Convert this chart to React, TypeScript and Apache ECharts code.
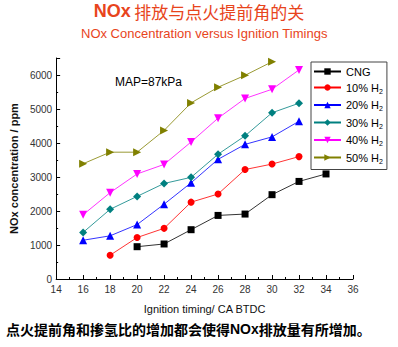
import React, { useEffect, useRef } from "react";
import * as echarts from "echarts";

const xTicks = [14, 16, 18, 20, 22, 24, 26, 28, 30, 32, 34, 36];
const seriesNames = ["CNG", "10% H2", "20% H2", "30% H2", "40% H2", "50% H2"];
const cngX = [20, 22, 24, 26, 28, 30, 32, 34];
const cngY = [950, 1030, 1450, 1870, 1910, 2480, 2870, 3090];
const h10X = [18, 20, 22, 24, 26, 28, 30, 32];
const h10Y = [700, 1220, 1490, 2260, 2500, 3220, 3380, 3600];
const h20X = [16, 18, 20, 22, 24, 26, 28, 30, 32];
const h20Y = [1140, 1270, 1600, 2200, 2830, 3520, 3960, 4180, 4640];
const h30X = [16, 18, 20, 22, 24, 26, 28, 30, 32];
const h30Y = [1370, 2050, 2430, 2810, 2990, 3670, 4210, 4890, 5170];
const h40X = [16, 18, 20, 22, 24, 26, 28, 30, 32];
const h40Y = [1890, 2540, 3090, 3370, 4030, 4730, 5310, 5580, 6150];
const h50X = [16, 18, 20, 22, 24, 26, 28, 30];
const h50Y = [3390, 3730, 3730, 4370, 5180, 5640, 5990, 6390];

const colors = ["#000000", "#ff0000", "#0000ff", "#008080", "#ff00ff", "#808000"];
const symbols = [
  "rect",
  "circle",
  "triangle",
  "diamond",
  "path://M0,0 L10,0 L5,9 Z",
  "path://M0,0 L9,5 L0,10 Z",
];
const symbolSizes = [7, 7, 8, 8, 8, 8];

const FONT = "'Liberation Sans', Arial, sans-serif";
const CJK = "'Noto Sans CJK SC', 'Liberation Sans', sans-serif";

export default function App() {
  const ref = useRef<HTMLDivElement>(null);
  useEffect(() => {
    document.body.style.margin = "0";
    const chart = echarts.init(ref.current!, null, { renderer: "svg" });
    const xs = [cngX, h10X, h20X, h30X, h40X, h50X];
    const ys = [cngY, h10Y, h20Y, h30Y, h40Y, h50Y];
    const series = seriesNames.map((name, i) => ({
      name,
      type: "line",
      data: xs[i].map((x, j) => [x, ys[i][j]]),
      symbol: symbols[i],
      symbolSize: symbolSizes[i],
      showAllSymbol: true,
      lineStyle: { color: colors[i], width: 0.8 },
      itemStyle: { color: colors[i] },
    }));
    chart.setOption({
      animation: false,
      backgroundColor: "#ffffff",
      textStyle: { fontFamily: FONT },
      grid: { left: 55, right: 45, top: 58, bottom: 68 },
      xAxis: {
        type: "value",
        min: 14,
        max: 36,
        interval: 2,
        name: "Ignition timing/ CA BTDC",
        nameLocation: "middle",
        nameGap: 24,
        nameTextStyle: { fontSize: 11, color: "#111", fontFamily: FONT },
        axisLine: { lineStyle: { color: "#000", width: 1 } },
        axisTick: { inside: true, length: 4, lineStyle: { color: "#000" } },
        minorTick: { show: true, splitNumber: 2, length: 2, lineStyle: { color: "#000" } },
        axisLabel: {
          fontSize: 10,
          color: "#333",
          margin: 5,
          formatter: (v: number) => (xTicks.includes(v) ? String(v) : ""),
        },
        splitLine: { show: false },
      },
      yAxis: {
        type: "value",
        min: 0,
        max: 6500,
        interval: 1000,
        name: "NOx concentration / ppm",
        nameLocation: "middle",
        nameGap: 30,
        nameRotate: 90,
        nameTextStyle: { fontSize: 11, color: "#111", fontWeight: "bold", fontFamily: FONT },
        axisLine: { show: true, lineStyle: { color: "#000", width: 1 } },
        axisTick: { show: true, inside: true, length: 4, lineStyle: { color: "#000" } },
        minorTick: { show: true, splitNumber: 2, length: 2, lineStyle: { color: "#000" } },
        axisLabel: {
          fontSize: 10,
          color: "#333",
          margin: 4,
          formatter: (v: number) => (v % 1000 === 0 ? String(v) : ""),
        },
        splitLine: { show: false },
      },
      legend: {
        orient: "vertical",
        left: 311,
        top: 62,
        borderColor: "#444",
        borderWidth: 1,
        padding: [4, 4, 5, 2],
        itemWidth: 27,
        itemHeight: 8,
        itemGap: 5,
        data: seriesNames,
        formatter: (n: string) => (n.endsWith("H2") ? n.slice(0, -1) + "{sub|2}" : n),
        textStyle: {
          fontSize: 11,
          color: "#000",
          fontFamily: FONT,
          rich: { sub: { fontSize: 7, padding: [7, 0, 0, 0], color: "#000", fontFamily: FONT } },
        },
      },
      graphic: [
        {
          type: "text",
          left: "center",
          top: 2,
          style: {
            text: "{a|NOx} {b|排放与点火提前角的关}",
            rich: {
              a: { fontSize: 18, fontWeight: "bold", fill: "#e8441c", fontFamily: FONT },
              b: { fontSize: 17, fill: "#e8441c", fontFamily: CJK },
            },
          },
        },
        {
          type: "text",
          x: 81,
          y: 27,
          style: {
            text: "NOx Concentration versus Ignition Timings",
            fontSize: 13,
            fill: "#e8441c",
            fontFamily: FONT,
          },
        },
        {
          type: "text",
          x: 115,
          y: 76,
          style: { text: "MAP=87kPa", fontSize: 12, fill: "#000", fontFamily: FONT },
        },
        {
          type: "text",
          x: 6,
          y: 322,
          style: {
            text: "{c|点火提前角和掺氢比的增加都会使得}{d|NOx}{c|排放量有所增加。}",
            rich: {
              c: { fontSize: 14, fontWeight: "bold", fill: "#000", fontFamily: CJK },
              d: { fontSize: 14, fontWeight: "bold", fill: "#000", fontFamily: FONT },
            },
          },
        },
      ],
      series,
    });
    return () => chart.dispose();
  }, []);
  return <div ref={ref} style={{ width: 398, height: 347 }} />;
}
